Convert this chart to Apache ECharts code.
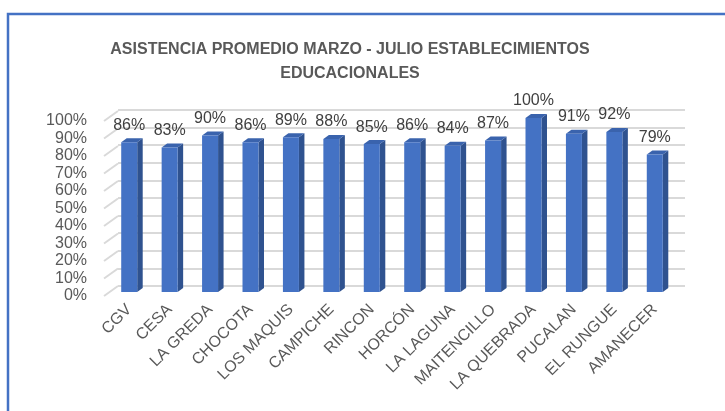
<!DOCTYPE html>
<html>
<head>
<meta charset="utf-8">
<script src="https://cdn.jsdelivr.net/npm/echarts@6/dist/echarts.min.js"></script>
<style>
    html, body { margin: 0; padding: 0; background: #fff; }
    #chart { width: 725px; height: 411px; }
</style>
</head>
<body>
<div id="chart"></div>
<script>
    // datos
    var escuelas = ['CGV', 'CESA', 'LA GREDA', 'CHOCOTA', 'LOS MAQUIS', 'CAMPICHE', 'RINCON',
        'HORCÓN', 'LA LAGUNA', 'MAITENCILLO', 'LA QUEBRADA', 'PUCALAN', 'EL RUNGUE', 'AMANECER'];
    var asistencia = [86, 83, 90, 86, 89, 88, 85, 86, 84, 87, 100, 91, 92, 79];
    var yTicks = [0, 10, 20, 30, 40, 50, 60, 70, 80, 90, 100];

    var font = 'Liberation Sans, Arial, sans-serif';
    var chart = echarts.init(document.getElementById('chart'));

    chart.setOption({
        backgroundColor: '#ffffff',
        title: {
            text: 'ASISTENCIA PROMEDIO MARZO - JULIO ESTABLECIMIENTOS\nEDUCACIONALES',
            left: 345,
            top: 33,
            textAlign: 'center',
            textStyle: { color: '#595959', fontSize: 16, fontWeight: 'bold', fontFamily: font, lineHeight: 24 }
        },
        graphic: [{
            type: 'rect',
            shape: { x: 8, y: 14, width: 900, height: 600 },
            style: { fill: 'none', stroke: '#4472C4', lineWidth: 2.5 },
            silent: true
        }],
        grid: [
            // etiquetas del eje y
            { left: 104, right: 40, top: 121, bottom: 115 },
            // pared del fondo
            { left: 118, right: 40, top: 110, bottom: 125 },
            // barras
            { left: 109, right: 50, top: 118, bottom: 119 }
        ],
        xAxis: [
            { gridIndex: 0, type: 'value', min: 0, max: 1, show: false },
            { gridIndex: 1, type: 'value', min: 0, max: 1, show: false },
            {
                gridIndex: 2, type: 'category', data: escuelas,
                axisLine: { show: false }, axisTick: { show: false },
                axisLabel: { rotate: 45, margin: 15, color: '#595959', fontSize: 16, fontFamily: font, interval: 0 }
            }
        ],
        yAxis: [
            {
                gridIndex: 0, type: 'value', min: 0, max: 100, interval: 10,
                axisLine: { show: false }, axisTick: { show: false }, splitLine: { show: false },
                axisLabel: { formatter: '{value}%', margin: 17, color: '#595959', fontSize: 16, fontFamily: font }
            },
            {
                gridIndex: 1, type: 'value', min: 0, max: 100, interval: 10,
                axisLine: { show: false }, axisTick: { show: false }, axisLabel: { show: false },
                splitLine: { lineStyle: { color: '#d9d9d9', width: 2 } }
            },
            { gridIndex: 2, type: 'value', min: 0, max: 100, show: false }
        ],
        series: [
            {
                // tramos diagonales de las lineas de division (pared izquierda)
                type: 'custom',
                xAxisIndex: 0, yAxisIndex: 0,
                data: yTicks.map(function (v) { return [0, v]; }),
                silent: true,
                renderItem: function (params, api) {
                    var p = api.coord([0, api.value(1)]);
                    return {
                        type: 'line',
                        shape: { x1: p[0], y1: p[1], x2: p[0] + 14, y2: p[1] - 10 },
                        style: { stroke: '#d9d9d9', lineWidth: 2 }
                    };
                }
            },
            {
                type: 'bar',
                xAxisIndex: 2, yAxisIndex: 2,
                data: asistencia,
                barWidth: 16,
                itemStyle: { color: '#4472C4' },
                label: {
                    show: true, position: 'top', distance: 9,
                    formatter: '{c}%', color: '#404040', fontSize: 16, fontFamily: font
                },
                z: 3
            },
            {
                // cara lateral y superior (efecto 3D)
                type: 'custom',
                xAxisIndex: 2, yAxisIndex: 2,
                data: asistencia.map(function (v, i) { return [i, v]; }),
                silent: true,
                renderItem: function (params, api) {
                    var top = api.coord([api.value(0), api.value(1)]);
                    var base = api.coord([api.value(0), 0]);
                    var x0 = top[0] - 8, x1 = top[0] + 8;
                    return {
                        type: 'group',
                        children: [{
                            type: 'polygon',
                            shape: { points: [[x1, top[1]], [x1 + 5.5, top[1] - 4], [x1 + 5.5, base[1] - 4], [x1, base[1]]] },
                            style: { fill: '#2F528F' }
                        }, {
                            type: 'polygon',
                            shape: { points: [[x0, top[1]], [x0 + 5.5, top[1] - 4], [x1 + 5.5, top[1] - 4], [x1, top[1]]] },
                            style: { fill: '#3A63AD' }
                        }]
                    };
                },
                z: 2
            }
        ]
    });
</script>
</body>
</html>
